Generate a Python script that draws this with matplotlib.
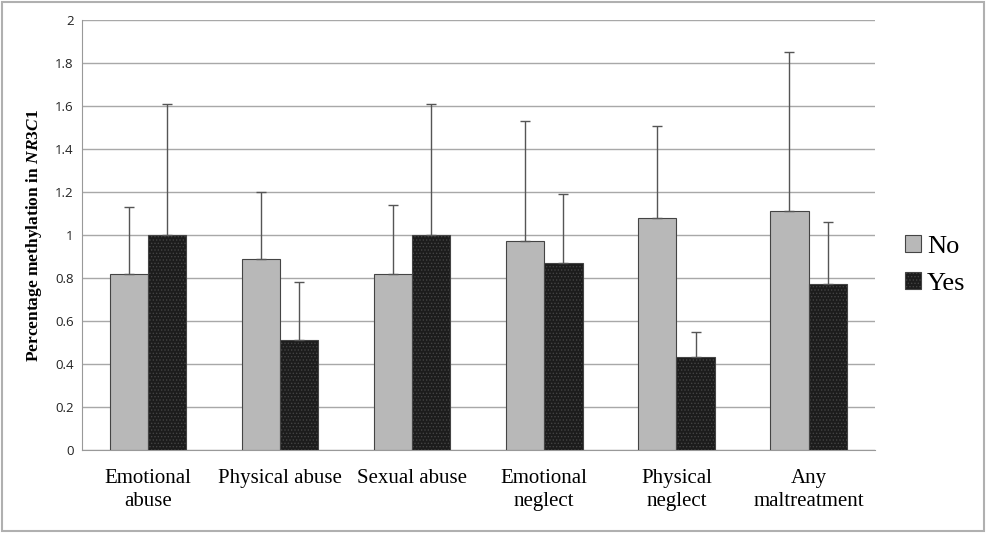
import numpy as np
import matplotlib
matplotlib.use("Agg")
import matplotlib.pyplot as plt
from matplotlib.patches import Rectangle

categories = ["Emotional\nabuse", "Physical abuse", "Sexual abuse",
              "Emotional\nneglect", "Physical\nneglect", "Any\nmaltreatment"]
no_vals = [0.82, 0.89, 0.82, 0.97, 1.08, 1.11]
yes_vals = [1.00, 0.51, 1.00, 0.87, 0.43, 0.77]
no_sd = [0.31, 0.31, 0.32, 0.56, 0.43, 0.74]
yes_sd = [0.61, 0.27, 0.61, 0.32, 0.12, 0.29]

plt.rcParams['mathtext.fontset'] = 'custom'
plt.rcParams['mathtext.rm'] = 'Liberation Serif:bold'
plt.rcParams['mathtext.it'] = 'Liberation Serif:bold:italic'
plt.rcParams['hatch.linewidth'] = 0.6

fig = plt.figure(figsize=(9.86, 5.33), dpi=100)
ax = fig.add_axes([0.083, 0.156, 0.804, 0.806])

x = np.arange(len(categories))
w = 0.29
err_kw = dict(ecolor='#555555', elinewidth=1, capsize=3.5, capthick=1)
ax.bar(x - w / 2, no_vals, w, color='#b8b8b8', edgecolor='#444444', linewidth=0.8,
       yerr=[np.zeros(len(x)), no_sd], error_kw=err_kw, label='No', zorder=3)
ax.bar(x + w / 2, yes_vals, w, color='#1c1c1c', edgecolor='#444444', linewidth=0.8,
       hatch='.....', yerr=[np.zeros(len(x)), yes_sd], error_kw=err_kw, label='Yes', zorder=3)

ax.set_ylim(0, 2)
ax.set_xlim(-0.5, len(x) - 0.5)
ax.set_yticks(np.arange(0, 2.01, 0.2))
ax.set_yticklabels(["0", "0.2", "0.4", "0.6", "0.8", "1", "1.2", "1.4", "1.6", "1.8", "2"],
                   fontsize=9.5, family='Open Sans', color='#222222')
ax.set_xticks(x)
ax.set_xticklabels(categories, fontsize=15, family='Liberation Serif', linespacing=1.3)
ax.tick_params(axis='both', length=0, pad=6)
ax.tick_params(axis='x', pad=14)
ax.grid(axis='y', color='#a8a8a8', linewidth=1, zorder=0)
ax.set_axisbelow(True)
for s in ['top', 'right']:
    ax.spines[s].set_visible(False)
ax.spines['left'].set_color('#999999')
ax.spines['bottom'].set_color('#999999')

ax.set_ylabel(r"$\mathrm{Percentage\ methylation\ in\ }\mathit{NR3C1}$", fontsize=12.5, labelpad=8)

ax.legend(loc='center left', bbox_to_anchor=(1.008, 0.43), frameon=False,
          prop={'family': 'Liberation Serif', 'size': 19}, handlelength=0.6,
          handleheight=0.6, handletextpad=0.25, labelspacing=0.55)

fig.patches.append(Rectangle((0.002, 0.003), 0.996, 0.994, transform=fig.transFigure,
                             fill=False, edgecolor='#b0b0b0', linewidth=1.5))

fig.savefig("out.png", dpi=100)
